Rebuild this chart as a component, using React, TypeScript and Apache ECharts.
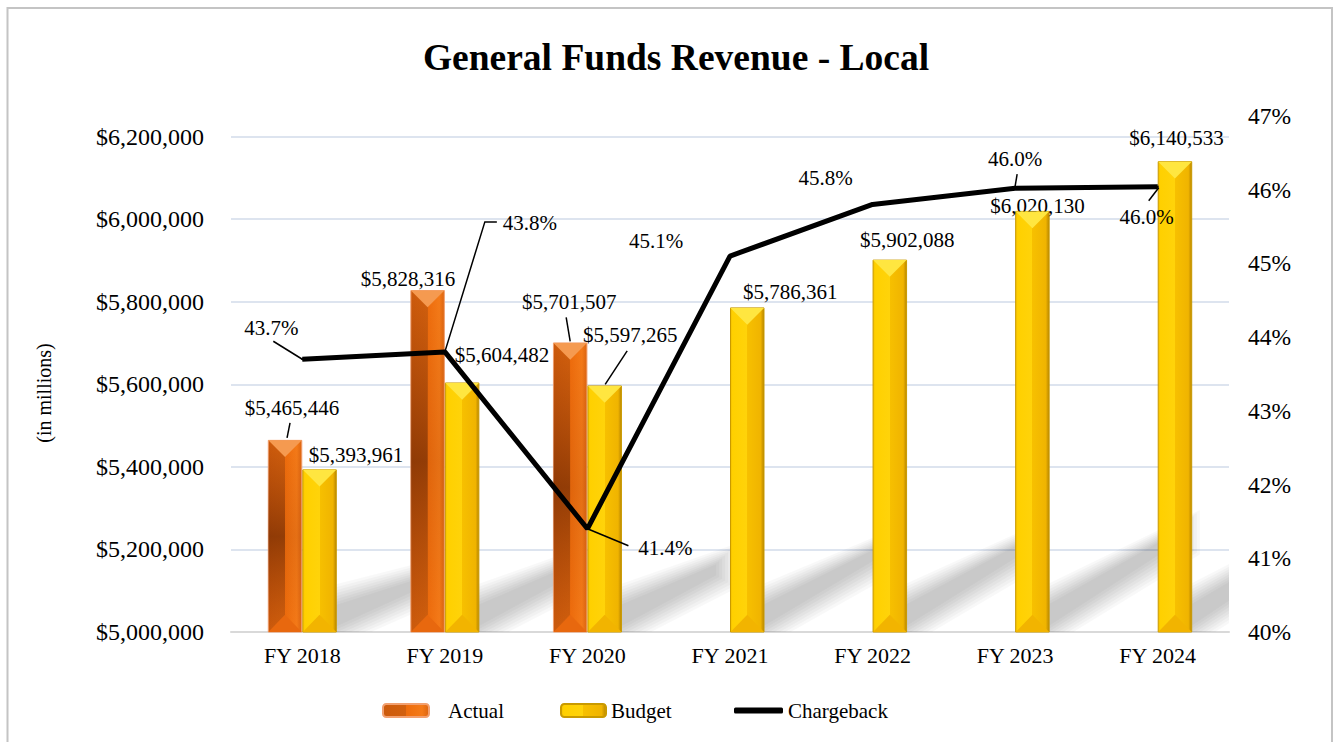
import React, { useEffect, useRef } from "react";
import * as echarts from "echarts";

// ---------------- data ----------------
const categories = ["FY 2018", "FY 2019", "FY 2020", "FY 2021", "FY 2022", "FY 2023", "FY 2024"];
const actualValues: (number | null)[] = [5465446, 5828316, 5701507, null, null, null, null];
const budgetValues: number[] = [5393961, 5604482, 5597265, 5786361, 5902088, 6020130, 6140533];
const chargebackPct: number[] = [43.7, 43.8, 41.4, 45.1, 45.8, 46.02, 46.04];

const leftAxisMin = 5000000;
const leftAxisMax = 6250000;
const leftAxisStep = 200000;
const rightAxisMin = 40;
const rightAxisMax = 47;
const rightAxisStep = 1;

// ---------------- label placement (pixel offsets from each mark's anchor) ----------------
type Pt = [number, number];
const actualLabelOffsets: (Pt | null)[] = [[7, -32], [-19.5, -11], [-1, -40], null, null, null, null];
const actualLeaders: (Pt[] | null)[] = [[[2, -2], [5, -17]], null, [[0, -1], [-4, -25]], null, null, null, null];
const budgetLabelOffsets: (Pt | null)[] = [[36.5, -14], [40, -27.5], [25.5, -50], [43, -15], [17.5, -20], [5, -5], [1.5, -23]];
const budgetLeaders: (Pt[] | null)[] = [null, null, [[0.5, -1], [22.5, -34.5]], null, null, null, null];
const lineLabelOffsets: (Pt | null)[] = [[-31, -31], [85, -129], [78, 19], [-74, -15], [-47, -26], [0, -29], [-11, 30]];
const lineLeaders: (Pt[] | null)[] = [
  [[0, 0], [-29, -18]],
  [[0, 0], [40, -130], [52, -130]],
  [[0, 0], [41, 17]],
  null,
  null,
  [[0, -2], [2, -14]],
  [[1, 1], [-9, 14]],
];

const FONT = "'Liberation Serif', 'Times New Roman', Times, serif";
const BAR_RATIO = 0.242;

const fmtMoney = (v: number) => "$" + Math.round(v).toLocaleString("en-US");

function makeBarLayout(offsets: (Pt | null)[]) {
  return (p: any) => {
    const off = offsets[p.dataIndex];
    if (!off) return {};
    const r = p.rect;
    return {
      x: r.x + r.width / 2 + off[0],
      y: r.y + off[1],
      align: "center",
      verticalAlign: "middle",
    };
  };
}

function lineLayout(p: any) {
  const off = lineLabelOffsets[p.dataIndex];
  if (!off) return {};
  const r = p.rect;
  return {
    x: r.x + r.width / 2 + off[0],
    y: r.y + r.height / 2 + off[1],
    align: "center",
    verticalAlign: "middle",
  };
}

const actualFill = new echarts.graphic.LinearGradient(0, 0, 1, 0, [
  { offset: 0, color: "#CC5A0C" },
  { offset: 0.5, color: "#D2600E" },
  { offset: 0.5, color: "#EE6C0C" },
  { offset: 0.85, color: "#F47A18" },
  { offset: 1, color: "#DC6410" },
]);
const budgetFill = new echarts.graphic.LinearGradient(0, 0, 1, 0, [
  { offset: 0, color: "#F2BE00" },
  { offset: 0.06, color: "#FFD000" },
  { offset: 0.5, color: "#FFD30A" },
  { offset: 0.5, color: "#F7C000" },
  { offset: 0.9, color: "#F0B400" },
  { offset: 1, color: "#B88600" },
]);

function bevelSeries(kind: "actual" | "budget") {
  const src = kind === "actual" ? actualValues : budgetValues;
  const leaders = kind === "actual" ? actualLeaders : budgetLeaders;
  return {
    type: "custom",
    xAxisIndex: 0,
    yAxisIndex: 0,
    z: 3,
    silent: true,
    data: src.map((v, i) => [i, v]).filter((d) => d[1] != null),
    renderItem: (params: any, api: any) => {
      const i = api.value(0);
      const v = api.value(1);
      const c = api.coord([i, v]);
      const base = api.coord([i, leftAxisMin]);
      const band = api.size([1, 0])[0];
      const bw = band * BAR_RATIO;
      const x0 = kind === "actual" ? c[0] - bw : c[0];
      const x1 = x0 + bw;
      const xc = x0 + bw / 2;
      const hb = bw / 2;
      const yt = c[1];
      const yb = base[1];
      const children: any[] = [];
      if (kind === "actual") {
        children.push({
          type: "polygon",
          shape: { points: [[x0 + 0.5, yt + 1], [xc, yt + hb], [xc, yb - hb], [x0 + 0.5, yb]] },
          style: {
            fill: new echarts.graphic.LinearGradient(0, 0, 0, 1, [
              { offset: 0, color: "rgba(120,40,0,0)" },
              { offset: 0.5, color: "rgba(95,32,0,0.55)" },
              { offset: 1, color: "rgba(120,40,0,0)" },
            ]),
          },
        });
        children.push({
          type: "polygon",
          shape: { points: [[xc, yt + hb], [x1 - 0.5, yt + 1], [x1 - 0.5, yb], [xc, yb - hb]] },
          style: {
            fill: new echarts.graphic.LinearGradient(0, 0, 0, 1, [
              { offset: 0, color: "rgba(120,40,0,0)" },
              { offset: 0.5, color: "rgba(120,40,0,0.12)" },
              { offset: 1, color: "rgba(120,40,0,0)" },
            ]),
          },
        });
      }
      children.push({
        type: "polygon",
        shape: { points: [[x0 + 0.5, yt + 0.5], [x1 - 0.5, yt + 0.5], [xc, yt + hb]] },
        style: { fill: kind === "actual" ? "#F59A50" : "#FFE640" },
      });
      children.push({
        type: "polygon",
        shape: { points: [[x0 + 0.5, yb], [x1 - 0.5, yb], [xc, yb - hb]] },
        style: { fill: kind === "actual" ? "#E8680E" : "#F2B400" },
      });
      const ld = leaders[i];
      if (ld) {
        children.push({
          type: "polyline",
          shape: { points: ld.map((p) => [xc + p[0], yt + p[1]]) },
          style: { stroke: "#000", lineWidth: 1.5, fill: null },
        });
      }
      return { type: "group", children };
    },
  };
}

const shadowSeries = {
  type: "custom",
  xAxisIndex: 0,
  yAxisIndex: 0,
  z: 1,
  silent: true,
  clip: true,
  data: budgetValues.map((v, i) => [i, v]),
  renderItem: (params: any, api: any) => {
    const i = api.value(0);
    const v = api.value(1);
    const c = api.coord([i, v]);
    const base = api.coord([i, leftAxisMin]);
    const band = api.size([1, 0])[0];
    const bw = band * BAR_RATIO;
    const x1 = c[0] + bw;
    const yb = base[1];
    const h = yb - c[1];
    const run = 0.2 * h + 45;
    const rise = 0.19 * h + 10;
    const T = 22;
    const children: any[] = [];
    for (let k = 7; k >= 0; k--) {
      const e = k * 3;
      children.push({
        type: "polygon",
        shape: {
          points: [
            [x1 - 4, yb - 4 + e],
            [x1 - 4, yb - 4 - T - e],
            [x1 + run + e, yb - rise - T * 0.5 - e],
            [x1 + run + e, yb - rise + e * 0.6],
          ],
        },
        style: { fill: "rgba(0,0,0,0.027)" },
      });
    }
    return { type: "group", children };
  },
};

const lineLeaderSeries = {
  type: "custom",
  xAxisIndex: 0,
  yAxisIndex: 1,
  z: 6,
  silent: true,
  data: chargebackPct.map((v, i) => [i, v]),
  renderItem: (params: any, api: any) => {
    const i = api.value(0);
    const ld = lineLeaders[i];
    if (!ld) return null;
    const pt = api.coord([i, api.value(1)]);
    return {
      type: "polyline",
      shape: { points: ld.map((p) => [pt[0] + p[0], pt[1] + p[1]]) },
      style: { stroke: "#000", lineWidth: 1.5, fill: null },
    };
  },
};

export default function App() {
  const ref = useRef<HTMLDivElement>(null);
  useEffect(() => {
    if (!ref.current) return;
    const chart = echarts.init(ref.current, null, { renderer: "svg" });
    const textBase = { fontFamily: FONT, color: "#000" };
    chart.setOption({
      animation: false,
      backgroundColor: "#fff",
      title: {
        text: "General Funds Revenue - Local",
        left: 671,
        textAlign: "center",
        top: 33,
        textStyle: { ...textBase, fontSize: 37.5, fontWeight: "bold" },
      },
      graphic: [
        {
          type: "rect",
          z: -10,
          shape: { x: 7.5, y: 8, width: 1324.5, height: 760 },
          style: { fill: "none", stroke: "#c4c4c4", lineWidth: 2 },
        },
        {
          type: "text",
          x: 44,
          y: 393,
          rotation: Math.PI / 2,
          style: {
            text: "(in millions)",
            fontSize: 20,
            fontFamily: FONT,
            fill: "#000",
            align: "center",
            verticalAlign: "middle",
          },
        },
      ],
      legend: [
        {
          data: ["Actual"],
          left: 382,
          top: 700,
          padding: 0,
          itemWidth: 46,
          itemHeight: 13,
          textStyle: { ...textBase, fontSize: 21, padding: [0, 0, 0, 14] },
        },
        {
          data: ["Budget"],
          left: 560,
          top: 700,
          padding: 0,
          itemWidth: 45,
          itemHeight: 13,
          textStyle: { ...textBase, fontSize: 21 },
        },
        {
          data: [{ name: "Chargeback", icon: "roundRect" }],
          left: 734,
          top: 700,
          padding: 0,
          itemWidth: 49,
          itemHeight: 6,
          textStyle: { ...textBase, fontSize: 21 },
        },
      ],
      grid: { left: 231, right: 109, top: 116, bottom: 110 },
      xAxis: {
        type: "category",
        data: categories,
        axisLine: { lineStyle: { color: "#d9d9d9", width: 2 } },
        axisTick: { show: false },
        axisLabel: { ...textBase, fontSize: 22, margin: 12 },
      },
      yAxis: [
        {
          type: "value",
          min: leftAxisMin,
          max: leftAxisMax,
          interval: leftAxisStep,
          axisLine: { show: false },
          axisTick: { show: false },
          axisLabel: {
            ...textBase,
            fontSize: 24,
            margin: 27,
            showMaxLabel: false,
            formatter: (v: number) => (v % leftAxisStep === 0 ? fmtMoney(v) : ""),
          },
          splitLine: {
            showMaxLine: false,
            showMinLine: false,
            lineStyle: { color: "#dde4ef", width: 2 },
          },
        },
        {
          type: "value",
          position: "right",
          min: rightAxisMin,
          max: rightAxisMax,
          interval: rightAxisStep,
          axisLine: { show: false },
          axisTick: { show: false },
          splitLine: { show: false },
          axisLabel: { ...textBase, fontSize: 23.5, margin: 19, formatter: (v: number) => `${v}%` },
        },
      ],
      series: [
        {
          name: "Actual",
          type: "bar",
          yAxisIndex: 0,
          barWidth: BAR_RATIO * 100 + "%",
          barGap: "0%",
          z: 2,
          data: actualValues,
          itemStyle: { color: actualFill, borderColor: "#F2A070", borderWidth: 1 },
          label: {
            show: true,
            position: "top",
            ...textBase,
            fontSize: 21,
            formatter: (p: any) => fmtMoney(p.value),
          },
          labelLayout: makeBarLayout(actualLabelOffsets),
        },
        {
          name: "Budget",
          type: "bar",
          yAxisIndex: 0,
          barWidth: BAR_RATIO * 100 + "%",
          barGap: "0%",
          z: 2,
          data: budgetValues,
          itemStyle: { color: budgetFill, borderColor: "#C99A00", borderWidth: 1 },
          label: {
            show: true,
            position: "top",
            ...textBase,
            fontSize: 21,
            formatter: (p: any) => fmtMoney(p.value),
          },
          labelLayout: makeBarLayout(budgetLabelOffsets),
        },
        {
          name: "Chargeback",
          type: "line",
          yAxisIndex: 1,
          z: 5,
          data: chargebackPct,
          symbol: "circle",
          symbolSize: 2,
          showSymbol: true,
          lineStyle: { color: "#000", width: 5 },
          itemStyle: { color: "#000" },
          label: {
            show: true,
            position: "top",
            ...textBase,
            fontSize: 21,
            formatter: (p: any) => Number(p.value).toFixed(1) + "%",
          },
          labelLayout: lineLayout,
        },
        shadowSeries,
        bevelSeries("actual"),
        bevelSeries("budget"),
        lineLeaderSeries,
      ],
    });
    return () => chart.dispose();
  }, []);
  return (
    <div
      ref={ref}
      style={{ position: "fixed", left: 0, top: 0, width: 1338, height: 742, background: "#fff" }}
    />
  );
}
